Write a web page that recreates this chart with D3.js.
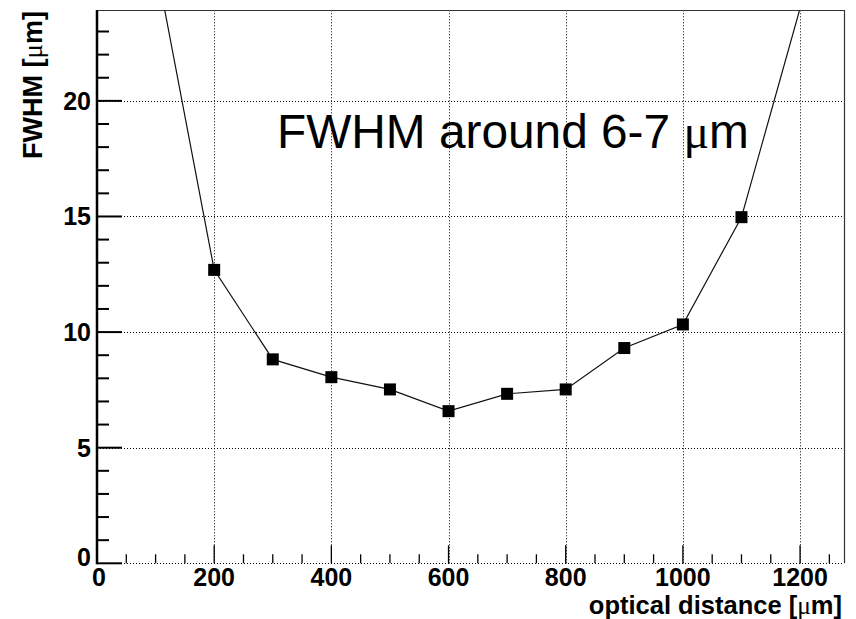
<!DOCTYPE html>
<html>
<head>
<meta charset="utf-8">
<script src="https://cdn.jsdelivr.net/npm/d3@7"></script>
<style>
html,body{margin:0;padding:0;background:#fff;}
svg{display:block;}
</style>
</head>
<body>
<script>
// ---- data ----
const distances = [100, 200, 300, 400, 500, 600, 700, 800, 900, 1000, 1100, 1200];
const fwhm = [26.0, 12.69, 8.82, 8.05, 7.52, 6.58, 7.33, 7.52, 9.31, 10.33, 14.97, 24.0];
const xTicks = [0, 200, 400, 600, 800, 1000, 1200];
const yTicks = [0, 5, 10, 15, 20];
const xDomain = [0, 1275];
const yDomain = [0, 23.93];
const xTitleParts = ["optical distance [", "\u03bc", "m]"];
const yTitleParts = ["FWHM [", "\u03bc", "m]"];
const annotationParts = ["FWHM around 6-7 ", "\u03bc", "m"];

const W = 856, H = 619;
const L = 97, R = 844, T = 10, B = 563.3;

const svg = d3.select("body").append("svg").attr("width", W).attr("height", H);
const x = d3.scaleLinear().domain(xDomain).range([L, R]);
const y = d3.scaleLinear().domain(yDomain).range([B, T]);

const font = "'Liberation Sans', Arial, Helvetica, sans-serif";
const serif = "'Liberation Serif', 'Times New Roman', serif";

// grid (dotted)
const grid = svg.append("g").attr("stroke", "#000").attr("stroke-width", 1)
  .attr("stroke-dasharray", "1,2").attr("fill", "none");
grid.selectAll("line.gx").data(xTicks.filter(d => d > 0)).join("line")
  .attr("x1", d => Math.round(x(d)) + 0.5).attr("x2", d => Math.round(x(d)) + 0.5)
  .attr("y1", B).attr("y2", T);
grid.selectAll("line.gy").data(yTicks).join("line")
  .attr("y1", d => Math.round(y(d)) + 0.5).attr("y2", d => Math.round(y(d)) + 0.5)
  .attr("x1", L).attr("x2", R);

// frame top/right
svg.append("path").attr("d", `M${L},${T + 0.5}H${R + 0.5}V${B}`)
  .attr("stroke", "#333").attr("stroke-width", 1.2).attr("fill", "none");

// x axis ticks (major and secondary)
const xMinor = d3.range(50, 1275, 50).filter(d => d % 200 !== 0);
const xt = svg.append("g").attr("stroke", "#000").attr("stroke-width", 1.3);
xt.selectAll("line.maj").data(xTicks).join("line")
  .attr("x1", d => x(d)).attr("x2", d => x(d)).attr("y1", B).attr("y2", B - 18);
xt.selectAll("line.min").data(xMinor).join("line")
  .attr("x1", d => x(d)).attr("x2", d => x(d)).attr("y1", B).attr("y2", B - 9);

// y axis ticks
const yMinor = d3.range(1, 24, 1).filter(d => d % 5 !== 0);
const yt = svg.append("g").attr("stroke", "#000").attr("stroke-width", 2);
yt.selectAll("line.maj").data(yTicks).join("line")
  .attr("y1", d => y(d)).attr("y2", d => y(d)).attr("x1", L).attr("x2", L + 25);
yt.selectAll("line.min").data(yMinor).join("line")
  .attr("y1", d => y(d)).attr("y2", d => y(d)).attr("x1", L).attr("x2", L + 12);

// y axis line
svg.append("line").attr("x1", L).attr("x2", L).attr("y1", T).attr("y2", B + 1)
  .attr("stroke", "#000").attr("stroke-width", 2.5);

// clip
svg.append("clipPath").attr("id", "clip").append("rect")
  .attr("x", L).attr("y", T).attr("width", R - L).attr("height", B - T);

const pts = distances.map((d, i) => ({x: d, y: fwhm[i]}));
const line = d3.line().x(d => x(d.x)).y(d => y(d.y));
svg.append("path").datum(pts).attr("d", line).attr("clip-path", "url(#clip)")
  .attr("fill", "none").attr("stroke", "#111").attr("stroke-width", 1.2);

const ms = 12;
svg.append("g").selectAll("rect").data(pts.filter(d => d.y <= yDomain[1])).join("rect")
  .attr("x", d => x(d.x) - ms / 2).attr("y", d => y(d.y) - ms / 2)
  .attr("width", ms).attr("height", ms).attr("fill", "#000");

// tick labels
svg.append("g").selectAll("text").data(xTicks).join("text")
  .attr("x", d => x(d) + (d === 0 ? 2 : 0)).attr("y", 585.5)
  .attr("text-anchor", "middle").attr("font-family", font).attr("font-weight", "bold")
  .attr("font-size", 25).text(d => d);
svg.append("g").selectAll("text").data(yTicks).join("text")
  .attr("x", 91).attr("y", d => y(d) + 9 - (d === 0 ? 6 : 0))
  .attr("text-anchor", "end").attr("font-family", font).attr("font-weight", "bold")
  .attr("font-size", 25).text(d => d);

function addParts(sel, parts) {
  parts.forEach((p, i) => {
    const t = sel.append("tspan").text(p);
    if (i === 1) t.attr("font-family", serif).attr("font-weight", "normal");
  });
}

// axis titles
const xt2 = svg.append("text").attr("x", 842).attr("y", 614).attr("text-anchor", "end")
  .attr("font-family", font).attr("font-weight", "bold").attr("font-size", 25.5);
addParts(xt2, xTitleParts);
const yt2 = svg.append("text").attr("transform", "translate(42,11) rotate(-90)").attr("text-anchor", "end")
  .attr("font-family", font).attr("font-weight", "bold").attr("font-size", 27);
addParts(yt2, yTitleParts);

// annotation
const ann = svg.append("text").attr("x", 277).attr("y", 148)
  .attr("font-family", font).attr("font-size", 47.8).attr("fill", "#000");
addParts(ann, annotationParts);
</script>
</body>
</html>
